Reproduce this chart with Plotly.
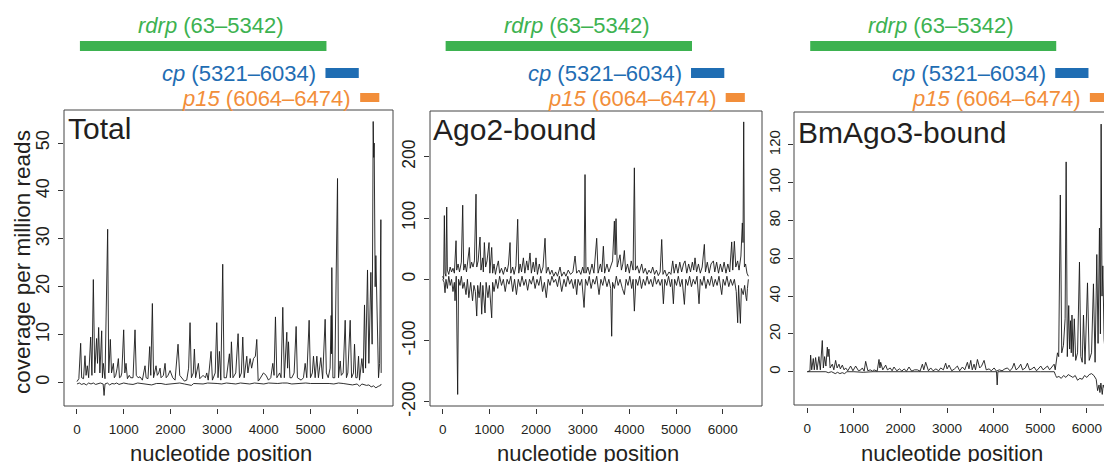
import plotly.graph_objects as go

# The page body has an 8 px margin, so the figure is laid out in page pixels shifted by 8.
PAGE_W, PAGE_H, OFF = 1112, 462, 8
W, H = PAGE_W - OFF, PAGE_H - OFF

# ---------------- data ----------------
genes = ["rdrp", "cp", "p15"]
gene_start = [63, 5321, 6064]
gene_end = [5342, 6034, 6474]
gene_colors = ["#3db250", "#1f6db3", "#f28e3a"]

panel_titles = ["Total", "Ago2-bound", "BmAgo3-bound"]
x_ticks = [0, 1000, 2000, 3000, 4000, 5000, 6000]
y_ticks_total = [0, 10, 20, 30, 40, 50]
y_ticks_ago2 = [-200, -100, 0, 100, 200]
y_ticks_ago3 = [0, 20, 40, 60, 80, 100, 120]

# (nucleotide position, coverage per million reads) vertices
total_sense = [
    (0, 0.2), (40, 0.8), (79, 8.2), (100, 1), (140, 0.8), (171, 5.6), (195, 1.5), (221, 3.5),
    (250, 1), (293, 9.5), (320, 1.5), (350, 21.5), (380, 2), (400, 7), (420, 9.2), (440, 4),
    (464, 11.5), (490, 2), (510, 6), (529, 10.8), (545, 1), (564, 4), (600, 0.8), (657, 32),
    (680, 2), (714, 9), (740, 2), (779, 4), (800, 1), (830, 1.5), (860, 3), (886, 5), (910, 1),
    (940, 1.2), (960, 2), (1000, 11), (1025, 2), (1050, 4), (1080, 0.8), (1120, 1.5), (1150, 1),
    (1200, 1), (1243, 11), (1270, 1.5), (1310, 1), (1350, 1.2), (1400, 0.5), (1457, 3.5),
    (1480, 1), (1520, 0.8), (1557, 7.5), (1580, 1.5), (1614, 16.5), (1640, 1), (1693, 3.5),
    (1720, 1.5), (1750, 2), (1779, 3), (1800, 1), (1850, 1.5), (1886, 4), (1910, 1), (1950, 1.5),
    (1993, 2.5), (2050, 1), (2100, 0.5), (2164, 8), (2200, 1.5), (2300, 0.3), (2350, 0.5),
    (2390, 3), (2421, 12.5), (2450, 1), (2490, 2), (2514, 7), (2540, 1), (2600, 4), (2630, 0.8),
    (2700, 1.5), (2750, 1), (2779, 2), (2810, 0.5), (2871, 6.5), (2900, 0.5), (2960, 2),
    (2993, 12.5), (3020, 1), (3050, 6.5), (3080, 0.5), (3121, 24.7), (3150, 1), (3200, 1),
    (3264, 6), (3285, 1), (3307, 8.5), (3340, 1), (3400, 2), (3450, 10.2), (3480, 1), (3520, 2),
    (3550, 9.5), (3580, 1), (3636, 5.5), (3660, 2), (3707, 5), (3740, 3), (3780, 5), (3820, 5.5),
    (3850, 9), (3880, 0.3), (3900, 0.5), (3950, 1.5), (3993, 2), (4050, 1.5), (4100, 0.5),
    (4150, 1), (4193, 4), (4220, 1.5), (4250, 13.7), (4280, 1), (4340, 2), (4370, 1),
    (4407, 15.7), (4440, 1), (4493, 10.5), (4510, 3), (4529, 8.5), (4560, 1), (4600, 1),
    (4650, 2), (4693, 11.7), (4720, 1), (4800, 0.5), (4850, 1), (4886, 4), (4920, 1), (4971, 13),
    (5000, 1), (5040, 2), (5064, 5.5), (5100, 1), (5136, 5.5), (5170, 1), (5221, 5.2),
    (5260, 0.8), (5314, 13.2), (5340, 2), (5380, 1), (5420, 3), (5443, 14), (5450, 6),
    (5457, 24), (5480, 1), (5520, 1), (5579, 42.6), (5600, 1), (5636, 4.5), (5660, 1.5),
    (5700, 2), (5743, 13), (5770, 1), (5800, 2), (5850, 13), (5880, 1), (5920, 2), (5943, 8),
    (5970, 1), (6000, 1), (6029, 5.5), (6050, 0.5), (6100, 5), (6130, 2), (6157, 16.2),
    (6180, 3), (6221, 23.5), (6250, 4), (6293, 23), (6320, 8), (6343, 54.5), (6354, 47),
    (6364, 50), (6385, 20), (6400, 26.5), (6421, 15), (6440, 3), (6457, 1), (6480, 4),
    (6507, 34), (6514, 2),
]
total_antisense = [
    (0, -0.3), (50, -0.1), (100, -0.4), (150, -0.2), (200, -0.5), (250, -0.1), (300, -0.3),
    (350, -0.1), (400, -0.4), (450, -0.2), (500, -0.1), (560, -0.3), (580, -2.7), (600, -0.3),
    (650, -0.1), (700, -0.5), (750, -0.2), (800, -0.3), (850, -0.1), (900, -0.4), (950, -0.2),
    (1000, -0.1), (1100, -0.3), (1200, -0.4), (1300, -0.1), (1400, -0.2), (1500, -0.4),
    (1600, -0.5), (1700, -0.2), (1800, -0.2), (1900, -0.4), (2000, -0.3), (2100, -0.1),
    (2200, -0.1), (2300, -0.3), (2400, -0.4), (2450, -0.6), (2500, -0.2), (2600, -0.3),
    (2700, -0.3), (2800, -0.1), (2900, -0.1), (3000, -0.2), (3100, -0.3), (3200, -0.1),
    (3300, -0.2), (3400, -0.3), (3500, -0.1), (3600, -0.2), (3700, -0.3), (3800, -0.1),
    (3900, -0.2), (4000, -0.3), (4100, -0.1), (4200, -0.2), (4300, -0.2), (4400, -0.1),
    (4500, -0.1), (4600, -0.3), (4700, -0.2), (4800, -0.1), (4900, -0.1), (5000, -0.2),
    (5100, -0.2), (5200, -0.1), (5300, -0.1), (5400, -0.2), (5500, -0.3), (5600, -0.1),
    (5700, -0.2), (5800, -0.3), (5900, -0.5), (6000, -0.3), (6050, -0.8), (6100, -0.3),
    (6150, -0.4), (6200, -0.6), (6250, -0.5), (6300, -0.9), (6350, -0.7), (6400, -1.1),
    (6450, -0.8), (6500, -0.6), (6514, -0.3),
]

ago2_sense = [
    (0, 5), (20, 0), (36, 104), (50, 10), (70, 5), (86, 118), (100, 15), (130, 8), (160, 20),
    (190, 12), (220, 18), (250, 10), (286, 63), (300, 15), (330, 25), (360, 12), (400, 28),
    (429, 121), (450, 15), (480, 25), (510, 12), (540, 30), (571, 52), (590, 18), (620, 28),
    (650, 20), (680, 30), (714, 139), (730, 20), (760, 30), (800, 69), (820, 15), (857, 35),
    (870, 12), (893, 60), (920, 20), (950, 30), (993, 60), (1010, 10), (1050, 52), (1070, 10),
    (1100, 25), (1130, 8), (1160, 20), (1193, 30), (1220, 10), (1260, 18), (1300, 8),
    (1340, 20), (1380, 12), (1410, 25), (1443, 60), (1460, 10), (1500, 20), (1530, 8),
    (1570, 22), (1607, 98), (1630, 10), (1660, 25), (1690, 12), (1729, 35), (1760, 10),
    (1800, 30), (1830, 15), (1871, 43), (1900, 10), (1940, 28), (1970, 12), (2000, 35),
    (2030, 8), (2070, 25), (2110, 10), (2150, 20), (2193, 67), (2220, 10), (2260, 20),
    (2300, 8), (2340, 15), (2380, 5), (2420, 12), (2460, 5), (2514, 20), (2550, 5), (2600, 12),
    (2640, 5), (2690, 15), (2740, 8), (2790, 12), (2836, 38), (2870, 10), (2920, 15),
    (2960, 8), (3000, 20), (3029, 10), (3050, 171), (3070, 10), (3110, 20), (3150, 8),
    (3200, 25), (3240, 10), (3300, 67), (3330, 10), (3380, 25), (3410, 12), (3443, 54),
    (3470, 10), (3520, 25), (3560, 12), (3600, 20), (3640, 30), (3679, 95), (3695, 40),
    (3714, 99), (3740, 20), (3770, 30), (3800, 40), (3830, 15), (3860, 25), (3893, 47),
    (3920, 12), (3960, 25), (4000, 10), (4040, 30), (4080, 15), (4107, 182), (4130, 15),
    (4170, 22), (4210, 10), (4264, 25), (4300, 10), (4340, 18), (4380, 8), (4420, 15),
    (4460, 10), (4500, 20), (4540, 8), (4580, 15), (4620, 6), (4660, 12), (4693, 65),
    (4720, 8), (4760, 15), (4800, 5), (4850, 12), (4890, 8), (4929, 30), (4960, 10),
    (5000, 25), (5040, 10), (5080, 28), (5120, 12), (5160, 25), (5193, 30), (5230, 10),
    (5270, 25), (5310, 12), (5350, 28), (5380, 15), (5407, 35), (5440, 12), (5480, 25),
    (5520, 10), (5560, 20), (5607, 57), (5630, 12), (5670, 28), (5710, 10), (5750, 25),
    (5800, 30), (5830, 12), (5870, 28), (5910, 10), (5950, 25), (5990, 12), (6030, 28),
    (6070, 10), (6110, 25), (6150, 12), (6193, 61), (6215, 15), (6250, 62), (6280, 20),
    (6320, 30), (6350, 15), (6390, 38), (6421, 92), (6435, 60), (6450, 257), (6465, 20),
    (6490, 25), (6520, 10), (6550, 5),
]
ago2_antisense = [
    (0, 0), (30, -5), (50, -22), (70, 0), (100, -15), (130, 5), (160, -10), (190, 0),
    (220, -20), (250, -5), (264, -35), (290, 5), (321, -188), (340, 0), (370, -10), (400, 5),
    (430, -15), (460, -5), (500, -25), (530, 0), (560, -30), (600, -5), (640, -35), (670, -10),
    (700, -20), (729, -60), (750, -10), (780, -30), (810, -5), (836, -57), (860, -10),
    (907, -55), (930, -5), (970, -30), (1000, -10), (1050, -63), (1070, -5), (1100, -20),
    (1140, 0), (1180, -15), (1220, 5), (1260, -10), (1300, 0), (1340, -20), (1380, 0),
    (1420, -8), (1460, 5), (1500, -20), (1540, 0), (1580, -25), (1620, 0), (1660, -12),
    (1700, 5), (1740, -10), (1780, 0), (1820, -18), (1860, 0), (1900, -8), (1940, 5),
    (1980, -15), (2020, 0), (2060, -10), (2100, 5), (2140, -20), (2180, -5), (2220, -30),
    (2260, 0), (2300, -10), (2340, 5), (2380, -5), (2420, 0), (2460, -12), (2500, 5),
    (2550, -20), (2600, 0), (2640, -12), (2680, 5), (2720, -8), (2760, 0), (2800, -15),
    (2840, 0), (2871, -25), (2900, 0), (2940, -10), (2980, 0), (3029, -46), (3060, 0),
    (3100, -10), (3140, 5), (3180, -15), (3220, 0), (3260, -8), (3300, 5), (3350, -25),
    (3390, 0), (3430, -10), (3470, 5), (3520, -12), (3560, 0), (3600, -15), (3621, -93),
    (3640, -5), (3680, -15), (3720, 5), (3760, -10), (3800, 0), (3850, -15), (3893, -25),
    (3930, 0), (3970, -10), (4010, 5), (4050, -15), (4080, 0), (4107, -52), (4140, 0),
    (4180, -10), (4220, 5), (4260, -15), (4300, 0), (4340, -10), (4380, 5), (4420, -8),
    (4460, 0), (4500, -12), (4540, 5), (4580, -8), (4620, 0), (4660, -10), (4700, 0),
    (4729, -40), (4760, 0), (4800, -10), (4840, 5), (4880, -12), (4910, 0), (4943, -40),
    (4970, 0), (5010, -10), (5050, 5), (5090, -12), (5130, 0), (5179, -41), (5210, 0),
    (5250, -10), (5290, 5), (5330, -12), (5370, 0), (5410, -8), (5450, 5), (5493, -40),
    (5520, 0), (5560, -10), (5600, 5), (5640, -15), (5680, 0), (5720, -10), (5760, 5),
    (5800, -12), (5840, 0), (5880, -10), (5920, 5), (5979, -25), (6010, 0), (6050, -10),
    (6090, 5), (6130, -12), (6170, 0), (6210, -10), (6250, 0), (6290, -20), (6321, -71),
    (6340, -10), (6379, -72), (6400, -15), (6440, -25), (6470, -10), (6500, -30), (6514, -35),
    (6530, -15), (6550, 0),
]

ago3_sense = [
    (0, 0), (57, 0.5), (72, 8.8), (95, 1), (129, 7), (150, 1), (179, 7.5), (210, 1), (250, 8),
    (280, 1), (322, 16.5), (345, 2), (372, 8), (400, 3), (430, 13), (445, 8), (465, 12),
    (490, 2), (537, 4), (570, 1), (608, 6), (640, 2), (680, 4), (710, 1.5), (752, 3.5),
    (790, 1), (823, 2), (870, 0.5), (930, 3), (980, 0.5), (1038, 3), (1100, 0.5), (1150, 1),
    (1181, 2), (1220, 0.3), (1253, 5.5), (1300, 0.5), (1350, 1), (1400, 0.3), (1432, 1),
    (1500, 0.3), (1539, 6.5), (1560, 2), (1575, 5), (1620, 1), (1682, 3.5), (1720, 1),
    (1780, 2), (1820, 0.5), (1861, 2.5), (1920, 0.5), (1980, 1.5), (2030, 0.3), (2076, 1.5),
    (2130, 0.3), (2183, 2.5), (2240, 0.3), (2300, 1), (2362, 1), (2420, 0.3), (2470, 4),
    (2500, 1), (2541, 5), (2600, 0.5), (2649, 2), (2700, 0.5), (2760, 1.5), (2820, 0.5),
    (2863, 2), (2920, 1), (2970, 4.5), (3000, 1.5), (3042, 3.5), (3100, 0.5), (3160, 1.5),
    (3221, 3), (3270, 0.5), (3329, 2.5), (3380, 1), (3436, 5), (3470, 1.5), (3508, 6),
    (3540, 1), (3579, 4), (3610, 1), (3651, 6.5), (3700, 2), (3740, 3), (3794, 6), (3840, 1),
    (3900, 1.5), (3950, 0.5), (4009, 2), (4060, 0.3), (4120, 1), (4180, 0.5), (4240, 1.5),
    (4295, 2), (4350, 0.5), (4400, 2), (4438, 4.5), (4480, 1), (4530, 2), (4581, 4),
    (4620, 1), (4680, 2), (4724, 4.5), (4770, 1), (4820, 1.5), (4868, 2.5), (4920, 0.5),
    (4970, 2), (5011, 3), (5060, 1), (5100, 2), (5154, 3), (5200, 1), (5250, 2.5), (5297, 4),
    (5320, 1), (5340, 5), (5369, 10), (5395, 8), (5430, 93.5), (5460, 10), (5497, 14),
    (5533, 28), (5555, 111), (5580, 8), (5610, 35), (5630, 12), (5650, 27), (5665, 10),
    (5680, 30), (5705, 8), (5730, 28), (5760, 6), (5800, 10), (5841, 58), (5870, 8),
    (5900, 5), (5927, 30), (5960, 4), (6013, 47), (6050, 6), (6100, 10), (6141, 46.5),
    (6176, 5), (6213, 62), (6240, 15), (6270, 76), (6290, 20), (6306, 131), (6325, 40),
    (6342, 56), (6370, 17), (6400, 8), (6428, 5), (6460, 15), (6485, 43), (6500, 3),
    (6514, 2),
]
ago3_antisense = [
    (0, 0), (400, 0), (450, -0.5), (520, 0), (600, -1), (650, -0.3), (700, -1), (750, -0.5),
    (800, -1), (850, 0), (1000, 0), (1200, -0.3), (1400, 0), (2000, 0), (3000, 0), (4060, 0),
    (4075, -7), (4090, 0), (5000, 0), (5300, 0), (5330, -2), (5350, -3), (5400, -2.5),
    (5450, -3.5), (5500, -2), (5550, -3), (5600, -1.5), (5650, -2.5), (5700, -3), (5750, -2),
    (5800, -4.5), (5850, -3.5), (5900, -4), (5950, -2), (6000, -3), (6050, -1.5), (6100, -1),
    (6150, -2), (6200, -4), (6230, -10), (6260, -7), (6280, -11), (6300, -6), (6330, -12),
    (6350, -7), (6380, -9), (6400, -5), (6430, -8), (6460, -4), (6490, -2), (6514, -1),
]

# ---------------- layout (page-pixel boxes of the three panels) ----------------
panels = [
    dict(box=(64, 393, 110, 406), xr=(-278, 6767), yr=(-4.9, 56.9), yt=y_ticks_total,
         series=[total_sense, total_antisense], tfs=18, xlab=220.5, title_xy=(66, 128), right=True),
    dict(box=(430, 762, 111, 406), xr=(-272, 6842), yr=(-206.9, 274.8), yt=y_ticks_ago2,
         series=[ago2_sense, ago2_antisense], tfs=17.5, xlab=588, title_xy=(431, 130), right=True),
    dict(box=(794, 1112, 112, 405), xr=(-285, 6539), yr=(-17.6, 137.4), yt=y_ticks_ago3,
         series=[ago3_sense, ago3_antisense], tfs=15, xlab=952, title_xy=(796, 132), right=False),
]


def fx(p):
    return (p - OFF) / W


def fy(p):
    return 1 - (p - OFF) / H


fig = go.Figure()
shapes = []
annotations = []
layout = dict(width=W, height=H, margin=dict(l=0, r=0, t=0, b=0),
              paper_bgcolor="white", plot_bgcolor="white", showlegend=False,
              font=dict(family="Liberation Sans, Arial, sans-serif", color="#222"))

text_col = "#231f20"
for i, p in enumerate(panels):
    n = "" if i == 0 else str(i + 1)
    xa, ya = "x" + n, "y" + n
    x0, x1, y0, y1 = p["box"]
    for s in p["series"]:
        fig.add_trace(go.Scatter(x=[a for a, b in s], y=[b for a, b in s], mode="lines",
                                 line=dict(color="#1a1a1a", width=0.9), xaxis=xa, yaxis=ya,
                                 hoverinfo="skip"))
    layout["xaxis" + n] = dict(
        domain=[fx(x0), min(fx(x1), 1.0)], range=list(p["xr"]), anchor="free",
        position=fy(y1 + 2), showgrid=False, zeroline=False, showline=False,
        ticks="outside", ticklen=5, tickwidth=1, tickcolor="#333",
        tickvals=x_ticks, ticktext=[str(v) for v in x_ticks],
        tickfont=dict(size=13.5, color=text_col), ticklabelstandoff=4, automargin=False)
    layout["yaxis" + n] = dict(
        domain=[fy(y1), fy(y0)], range=list(p["yr"]), anchor=xa, showgrid=False,
        zeroline=False, showline=False, ticks="outside", ticklen=5, tickwidth=1,
        tickcolor="#333", tickvals=p["yt"], ticktext=[str(v) for v in p["yt"]],
        tickangle=-90, tickfont=dict(size=p["tfs"], color=text_col), ticklabelstandoff=2,
        automargin=False)
    # frame
    dx, dy = xa + " domain", ya + " domain"
    lc = dict(color="#444", width=1)
    shapes.append(dict(type="line", xref=dx, yref=dy, x0=0, x1=0, y0=0, y1=1, line=lc))
    shapes.append(dict(type="line", xref=dx, yref=dy, x0=0, x1=1, y0=0, y1=0, line=lc))
    shapes.append(dict(type="line", xref=dx, yref=dy, x0=0, x1=1, y0=1, y1=1, line=lc))
    if p["right"]:
        shapes.append(dict(type="line", xref=dx, yref=dy, x0=1, x1=1, y0=0, y1=1, line=lc))
    # panel title
    tx, ty = p["title_xy"]
    annotations.append(dict(text=panel_titles[i], xref="paper", yref="paper", x=fx(tx), y=fy(ty),
                            xanchor="left", yanchor="middle", showarrow=False,
                            font=dict(size=30, color=text_col)))
    # x-axis title
    annotations.append(dict(text="nucleotide position", xref="paper", yref="paper",
                            x=fx(p["xlab"]), y=fy(453.5), xanchor="center", yanchor="middle",
                            showarrow=False, font=dict(size=22, color=text_col)))
    # gene annotation bars and labels
    bar_rows = [(41, 51), (68, 78), (93, 102)]
    label_y = [26, 73, 98]
    for g in range(3):
        b0, b1 = bar_rows[g]
        shapes.append(dict(type="rect", xref=xa, yref="paper", x0=gene_start[g], x1=gene_end[g],
                           y0=fy(b1), y1=fy(b0), fillcolor=gene_colors[g], line=dict(width=0),
                           layer="above"))
        label = f"<i>{genes[g]}</i> ({gene_start[g]}–{gene_end[g]})"
        if g == 0:
            annotations.append(dict(text=label, xref=xa, yref="paper",
                                    x=(gene_start[g] + gene_end[g]) / 2, y=fy(label_y[g]),
                                    xanchor="center", yanchor="middle", xshift=8, showarrow=False,
                                    font=dict(size=22, color=gene_colors[g])))
        else:
            annotations.append(dict(text=label, xref=xa, yref="paper", x=gene_start[g],
                                    y=fy(label_y[g]), xanchor="right", yanchor="middle",
                                    xshift=-7, showarrow=False,
                                    font=dict(size=22, color=gene_colors[g])))

annotations.append(dict(text="coverage per million reads", xref="paper", yref="paper",
                        x=fx(22), y=fy(262), xanchor="center", yanchor="middle", textangle=-90,
                        showarrow=False, font=dict(size=22.5, color=text_col)))

layout["shapes"] = shapes
layout["annotations"] = annotations
fig.update_layout(**layout)
fig.write_html("out.html")
